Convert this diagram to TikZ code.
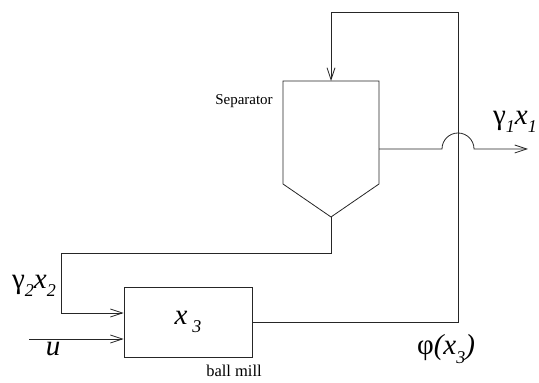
\documentclass[tikz,border=0pt]{standalone}
\usepackage{fontspec}
\setmainfont{Liberation Serif}
\usetikzlibrary{arrows.meta, positioning, calc}

\newcommand{\lsub}[1]{\raisebox{-0.28em}{\fontsize{18}{18}\selectfont\itshape #1}}

\tikzset{
  flow/.style={line width=0.8pt, draw=black!85},
  barb/.style={-{Straight Barb[length=12pt,width=8pt]}},
  biglbl/.style={font=\fontsize{29}{32}\selectfont},
  smalllbl/.style={font=\fontsize{15}{18}\selectfont},
}

\begin{document}
\begin{tikzpicture}[x=1pt,y=1pt]
  \useasboundingbox (0,0) rectangle (539,383);

  % ball mill
  \node[flow, draw, biglbl, minimum width=128pt, minimum height=70pt, inner sep=0pt] (mill) at (188,61) {\textit{x}\,\lsub{3}};
  \node[smalllbl, font=\fontsize{16.5}{18}\selectfont] (milllbl) at (234,12) {ball mill};

  % separator
  \coordinate (sepTL) at (283,302);
  \coordinate (sepTR) at (379,302);
  \coordinate (sepBR) at (379,199);
  \coordinate (sepBot) at (331,166);
  \coordinate (sepBL) at (283,199);
  \coordinate (sepIn) at (331,302);
  \coordinate (sepOut) at (379,234);
  \draw[flow] (sepTL) -- (sepTR) -- (sepBR) -- (sepBot) -- (sepBL) -- cycle;
  \node[smalllbl] (seplbl) at (244,282) {Separator};

  % mill output up to the separator
  \coordinate (recycle) at (458,371);
  \draw[flow, barb] (mill.east) -| (recycle) -| (sepIn);

  % coarse fraction back to the mill
  \coordinate (returnL) at (61,130);
  \draw[flow, barb] (sepBot) |- (returnL) |- ($(mill.west)+(0,9)$);

  % fresh feed
  \coordinate (feed) at (29,44);
  \draw[flow, barb] (feed) -- (feed -| mill.west);

  % fines out, hopping over the recycle line
  \coordinate (hop) at ($(recycle|-sepOut)+(-16,0)$);
  \coordinate (product) at (528,234);
  \draw[flow, barb] (sepOut) -- (hop) arc[start angle=180, end angle=0, radius=16pt] -- (product);

  % labels
  \node[biglbl] (sepfeed) at (34,97) {γ\lsub{2}\textit{x}\lsub{2}};
  \node[biglbl] (ulbl) at (53,34) {\textit{u}};
  \node[biglbl] (phi) at (446,34) {φ\textit{(x\lsub{3})}};
  \node[biglbl, anchor=east, inner sep=0pt] (fines) at (537,261) {γ\lsub{1}\textit{x}\lsub{1}};
\end{tikzpicture}
\end{document}
